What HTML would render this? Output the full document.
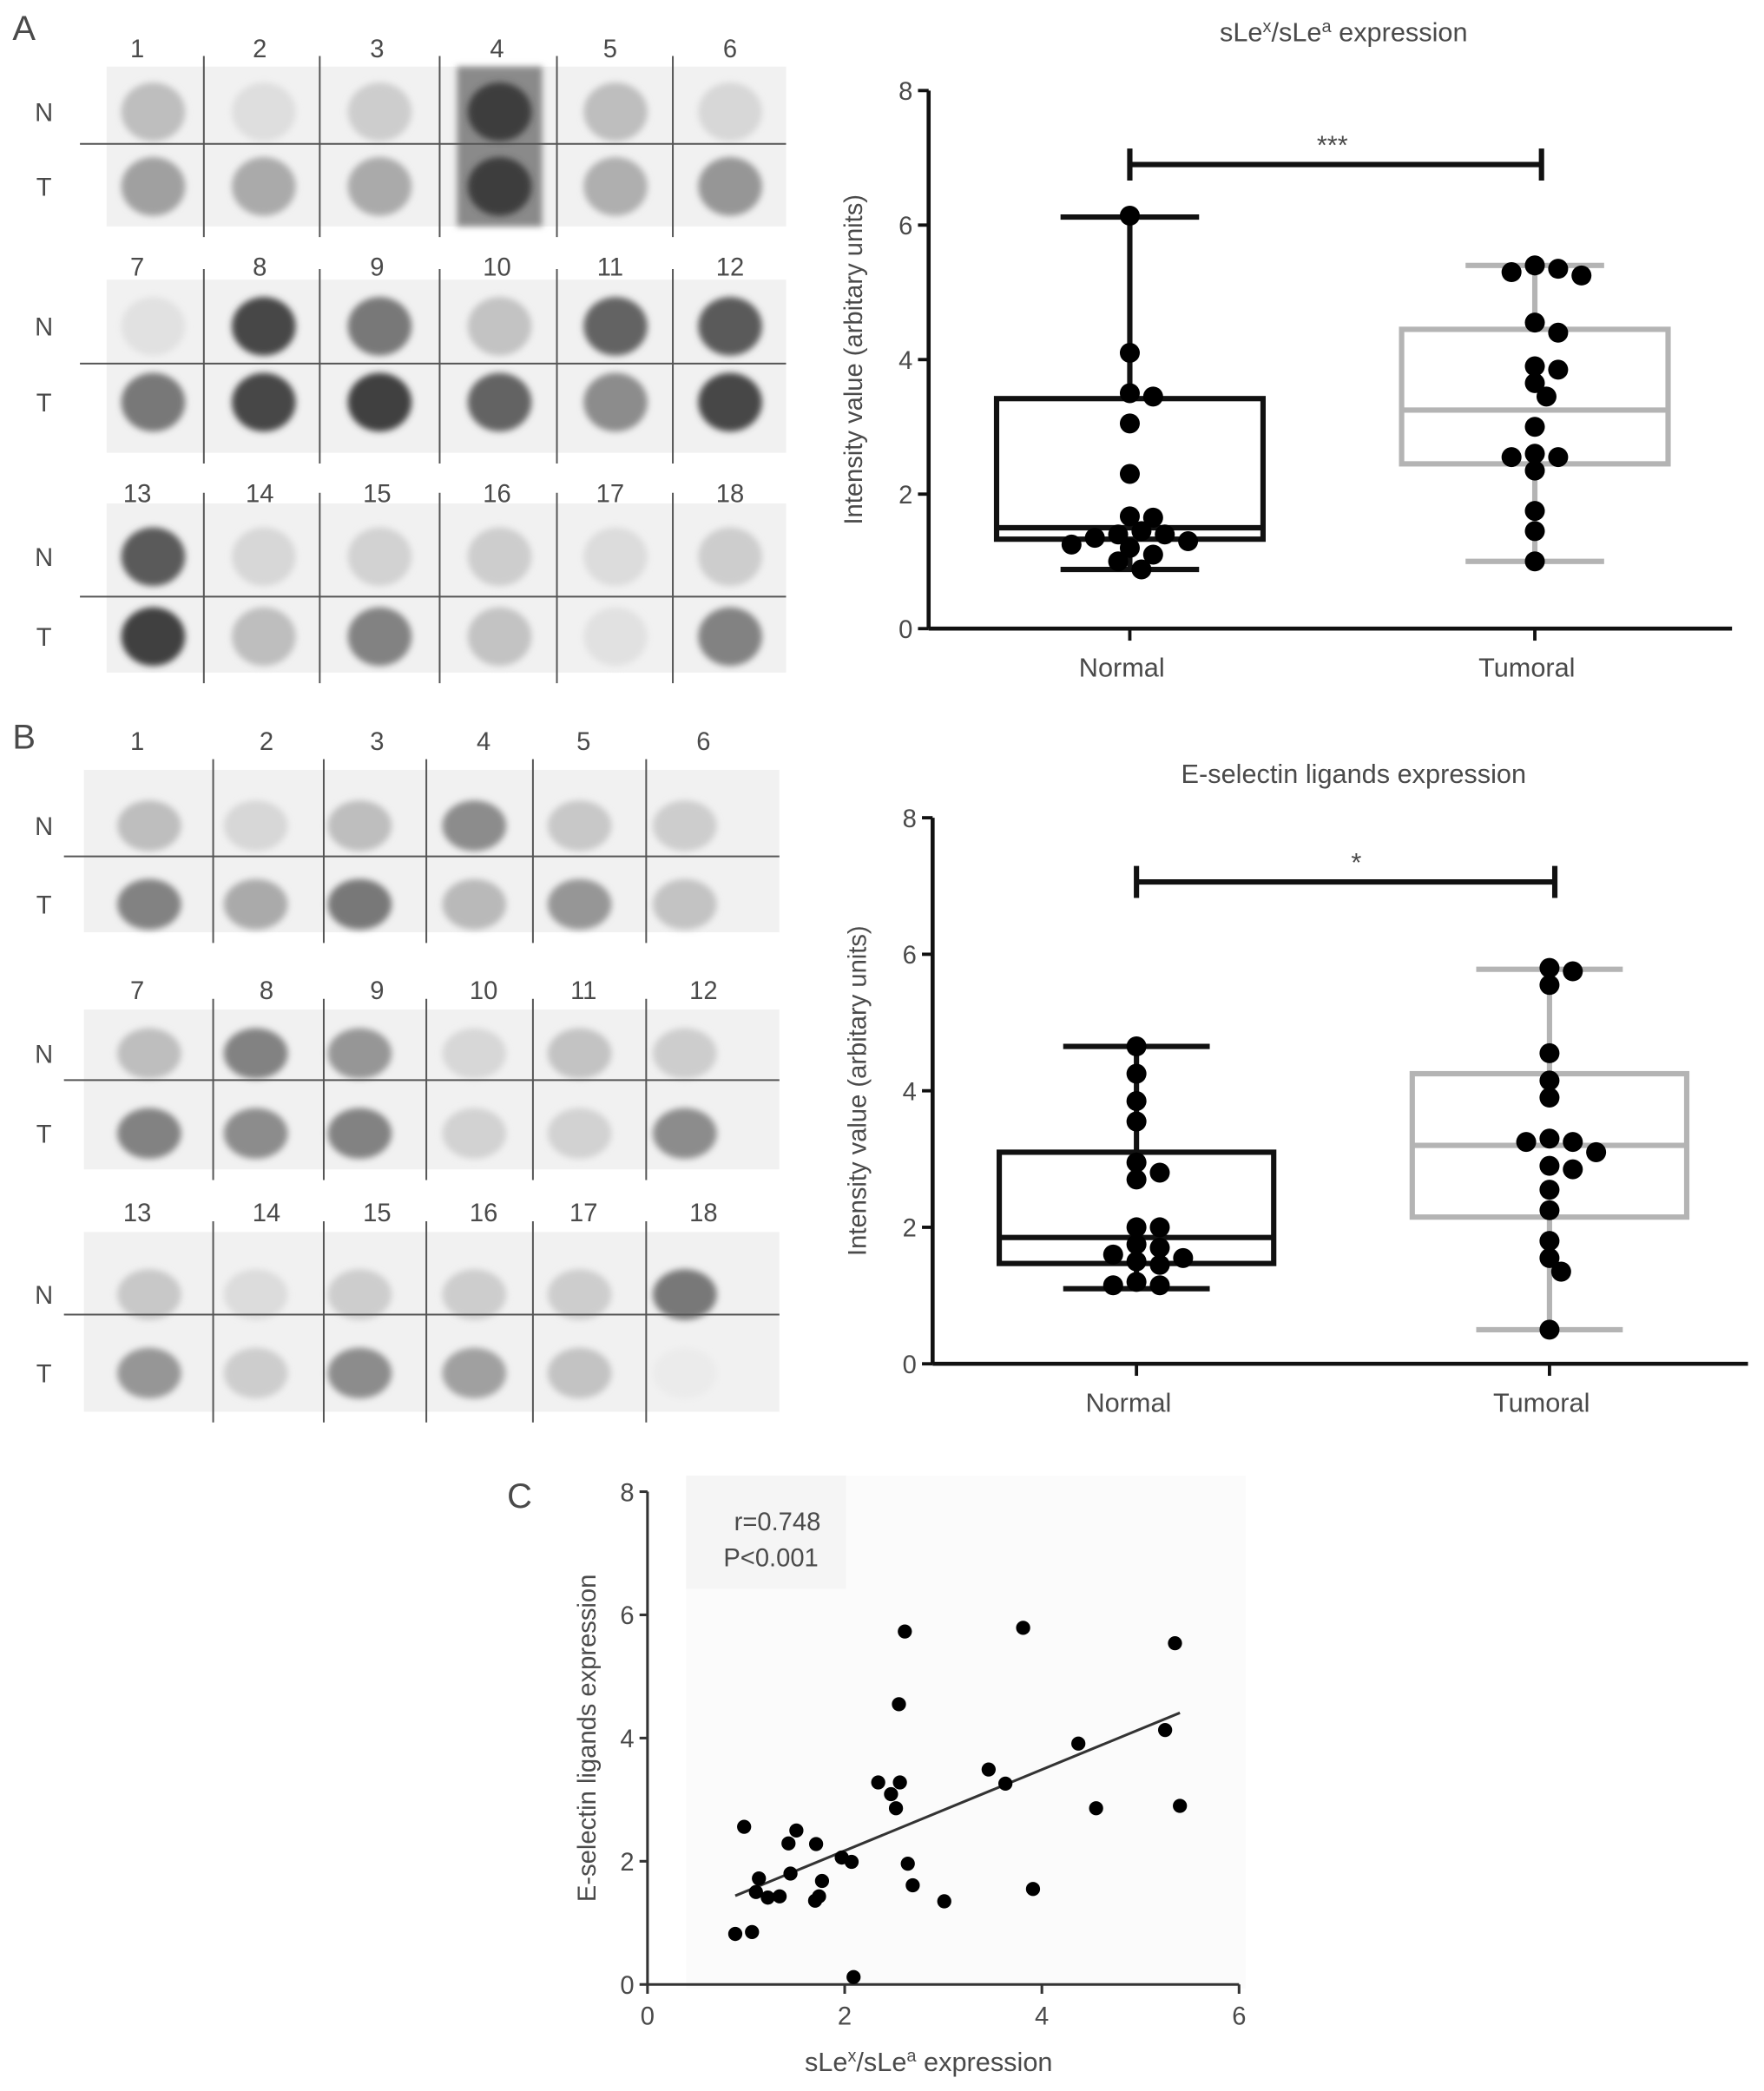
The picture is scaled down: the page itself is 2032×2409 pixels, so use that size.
<!DOCTYPE html>
<html><head><meta charset="utf-8">
<style>
html,body{margin:0;padding:0;background:#fff;}
svg{display:block;}
text{font-family:"Liberation Sans",sans-serif;fill:#4a4a4a;}
</style></head>
<body>
<svg id="fig" width="2032" height="2409" viewBox="0 0 1324 1570" preserveAspectRatio="none" xmlns="http://www.w3.org/2000/svg">
<defs><filter id="bl" x="-50%" y="-50%" width="200%" height="200%"><feGaussianBlur stdDeviation="2.5"/></filter></defs>
</svg>
<script>
// ---------- data ----------
const groupLabels = ["Normal","Tumoral"];
const yTicks = [0,2,4,6,8];
const xTicksC = [0,2,4,6];
const aNormal = [6.14,4.1,3.5,3.45,3.05,2.3,1.67,1.65,1.45,1.4,1.4,1.35,1.3,1.25,1.2,1.1,1.0,0.88];
const aTumoral = [5.4,5.35,5.3,5.25,4.55,4.4,3.9,3.85,3.65,3.45,3.0,2.6,2.55,2.55,2.35,1.75,1.45,1.0];
const aNormalBox = [0.88,1.33,1.5,3.42,6.12];
const aTumoralBox = [1.0,2.45,3.25,4.45,5.4];
const bNormal = [4.65,4.25,3.85,3.55,2.95,2.8,2.7,2.0,2.0,1.75,1.7,1.6,1.55,1.5,1.45,1.2,1.15,1.15];
const bTumoral = [5.8,5.75,5.55,4.55,4.15,3.9,3.3,3.25,3.25,3.1,2.9,2.85,2.55,2.25,1.8,1.55,1.35,0.5];
const bNormalBox = [1.1,1.47,1.85,3.1,4.65];
const bTumoralBox = [0.5,2.15,3.2,4.25,5.78];
const sigA = 6.9, sigB = 7.06;
const scX = [0.89,1.06,0.98,1.13,1.10,1.22,1.34,1.45,1.43,1.51,1.71,1.70,1.74,1.77,1.97,2.07,2.09,2.34,2.47,2.56,2.52,2.55,2.61,2.64,2.69,3.01,3.46,3.63,3.81,3.91,4.37,4.55,5.25,5.35,5.40];
const scY = [0.82,0.85,2.56,1.72,1.50,1.41,1.43,1.80,2.29,2.50,2.28,1.36,1.43,1.68,2.06,1.99,0.12,3.28,3.09,3.28,2.86,4.55,5.73,1.96,1.61,1.35,3.49,3.26,5.79,1.55,3.91,2.86,4.13,5.54,2.90];
const fitX = [0.89,5.40];
const fitY = [1.44,4.41];
const blotA_N = [[190,222,205,60,190,215],[225,70,120,195,100,90],[90,215,210,205,220,205]];
const blotA_T = [[160,170,170,60,175,150],[120,70,65,100,140,70],[65,190,130,195,225,130]];
const blotB_N = [[190,215,190,140,200,205],[190,130,150,215,195,205],[200,220,205,205,205,120]];
const blotB_T = [[130,170,120,185,150,195],[130,140,130,210,210,140],[150,205,140,160,195,235]];

// ---------- helpers ----------
const svg = document.getElementById('fig');
const NS = 'http://www.w3.org/2000/svg';
function mk(tag, attrs, parent){
  const e = document.createElementNS(NS, tag);
  for (const k in attrs) e.setAttribute(k, attrs[k]);
  (parent||svg).appendChild(e);
  return e;
}
function txt(x,y,s,size,anchor,parent){
  const t = mk('text',{x:x,y:y,'font-size':size,'text-anchor':anchor||'middle'},parent);
  t.textContent = s; return t;
}
function gray(v){return 'rgb('+v+','+v+','+v+')';}

// ---------- blots ----------
function blot(cfg, nData, tData){
  const g = mk('g',{});
  
  
  cfg.blocks.forEach((b,bi)=>{
    mk('rect',{x:cfg.x0,y:b.top,width:cfg.x1-cfg.x0,height:b.bottom-b.top,fill:'#f1f1f1'},g);
    if (cfg.darkCol!==undefined && bi===0){
      const c = cfg.darkCol;
      mk('rect',{x:cfg.cx[c]-32,y:b.top,width:64,height:b.bottom-b.top,fill:'#8a8a8a',filter:'url(#bl)'},g);
    }
    for (let i=0;i<6;i++){
      const lab = txt(cfg.nx[i], b.num, String(bi*6+i+1), 19, 'middle', g);
      
      
      const e1 = mk('ellipse',{cx:cfg.cx[i],cy:b.nY,rx:cfg.rx,ry:cfg.ry,fill:gray(nData[bi][i]),filter:'url(#bl)'},g);
      
      
      const e2 = mk('ellipse',{cx:cfg.cx[i],cy:b.tY,rx:cfg.rx,ry:cfg.ry,fill:gray(tData[bi][i]),filter:'url(#bl)'},g);
      
      
    }
    cfg.vl.forEach(x=>mk('line',{x1:x,x2:x,y1:b.top-8,y2:b.bottom+8,stroke:'#555','stroke-width':1.3},g));
    mk('line',{x1:cfg.hx0,x2:cfg.x1,y1:b.h,y2:b.h,stroke:'#555','stroke-width':1.3},g);
    txt(33,b.nY+7,'N',19,'middle',g);
    txt(33,b.tY+7,'T',19,'middle',g);
  });
}
blot({name:'dot-blot-a',x0:80,x1:590,hx0:60,cx:[115,198,285,375,462,548],nx:[103,195,283,373,458,548],vl:[153,240,330,418,505],rx:24,ry:22,darkCol:3,
  blocks:[{num:43,top:50,bottom:170,h:108,nY:84,tY:140},{num:207,top:210,bottom:340,h:273,nY:245,tY:302},{num:377,top:378,bottom:505,h:448,nY:418,tY:478}]},blotA_N,blotA_T);
blot({name:'dot-blot-b',x0:63,x1:585,hx0:48,cx:[112,192,270,356,435,514],nx:[103,200,283,363,438,528],vl:[160,243,320,400,485],rx:24,ry:19,
  blocks:[{num:563,top:578,bottom:700,h:643,nY:620,tY:679},{num:750,top:758,bottom:878,h:811,nY:791,tY:851},{num:917,top:925,bottom:1060,h:987,nY:972,tY:1031}]},blotB_N,blotB_T);

txt(18,30,'A',26,'middle');
txt(18,562,'B',26,'middle');
txt(390,1132,'C',26,'middle');

// ---------- box plots ----------
function beeswarm(vals, ys, cx, r){
  const placed=[]; const out=[];
  vals.forEach(v=>{
    const y=ys(v); let k=0, x=cx;
    while(true){
      const off = (k===0?0:Math.ceil(k/2)*(k%2?1:-1))*r*1.25;
      x=cx+off;
      if (placed.every(p=>Math.hypot(p[0]-x,p[1]-y)>=2*r*0.85)) break;
      k++;
    }
    placed.push([x,y]); out.push([x,y]);
  });
  return out;
}
function boxChart(c){
  const g = mk('g',{});
  
  
  const ys = v => c.y0 - (c.y0-c.y8)*v/8;
  const t = txt((c.ax+c.axEnd)/2+10, c.titleY, '', 20, 'middle', g);
  
  
  c.title(t);
  mk('line',{x1:c.ax,x2:c.ax,y1:c.y8,y2:c.y0,stroke:'#111','stroke-width':3},g);
  mk('line',{x1:c.ax,x2:c.axEnd,y1:c.y0,y2:c.y0,stroke:'#111','stroke-width':3},g);
  yTicks.forEach(v=>{
    mk('line',{x1:c.ax-8,x2:c.ax,y1:ys(v),y2:ys(v),stroke:'#111','stroke-width':2.5},g);
    const tl = txt(c.ax-12,ys(v)+7,String(v),19,'end',g);
    
    
  });
  const yt = txt(0,0,'Intensity value (arbitary units)',19,'middle',g);
  yt.setAttribute('transform','translate('+(c.ax-50)+','+((c.y0+c.y8)/2)+') rotate(-90)');
  
  
  const sets=[[c.nBox,c.nVals,'#111'],[c.tBox,c.tVals,'#b4b4b4']];
  sets.forEach((s,i)=>{
    const cx=c.gx[i], b=s[0], col=s[2];
    mk('line',{x1:cx,x2:cx,y1:c.y0,y2:c.y0+9,stroke:'#111','stroke-width':2.5},g);
    const xl = txt(cx-6,c.y0+36,groupLabels[i],20,'middle',g);
    
    
    const bx = mk('g',{},g);
    
    
    mk('line',{x1:cx,x2:cx,y1:ys(b[0]),y2:ys(b[1]),stroke:col,'stroke-width':4},bx);
    mk('line',{x1:cx,x2:cx,y1:ys(b[3]),y2:ys(b[4]),stroke:col,'stroke-width':4},bx);
    mk('line',{x1:cx-c.cap,x2:cx+c.cap,y1:ys(b[0]),y2:ys(b[0]),stroke:col,'stroke-width':4},bx);
    mk('line',{x1:cx-c.cap,x2:cx+c.cap,y1:ys(b[4]),y2:ys(b[4]),stroke:col,'stroke-width':4},bx);
    mk('rect',{x:cx-c.bw,y:ys(b[3]),width:2*c.bw,height:ys(b[1])-ys(b[3]),fill:'none',stroke:col,'stroke-width':4},bx);
    mk('line',{x1:cx-c.bw,x2:cx+c.bw,y1:ys(b[2]),y2:ys(b[2]),stroke:col,'stroke-width':4},bx);
    beeswarm(s[1],ys,cx,7).forEach(p=>{
      const d = mk('circle',{cx:p[0],cy:p[1],r:7.5,fill:'#000'},g);
      
      
    });
  });
  const sy = ys(c.sig);
  const sg = mk('g',{},g);
  
  
  mk('line',{x1:c.gx[0],x2:c.gx[1]+c.sigOff,y1:sy,y2:sy,stroke:'#111','stroke-width':4},sg);
  mk('line',{x1:c.gx[0],x2:c.gx[0],y1:sy-12,y2:sy+12,stroke:'#111','stroke-width':4},sg);
  mk('line',{x1:c.gx[1]+c.sigOff,x2:c.gx[1]+c.sigOff,y1:sy-12,y2:sy+12,stroke:'#111','stroke-width':4},sg);
  txt((c.gx[0]+c.gx[1])/2+c.starOff,sy-8,c.stars,20,'middle',sg);
}
boxChart({name:'boxplot-slex',ax:697,axEnd:1300,y0:472,y8:68,gx:[848,1152],bw:100,cap:52,titleY:31,
  nBox:aNormalBox,tBox:aTumoralBox,nVals:aNormal,tVals:aTumoral,sig:sigA,sigOff:5,stars:'***',starOff:0,
  title:t=>{t.innerHTML='sLe<tspan dy="-7" font-size="13">x</tspan><tspan dy="7">/sLe</tspan><tspan dy="-7" font-size="13">a</tspan><tspan dy="7"> expression</tspan>';}});
boxChart({name:'boxplot-eselectin',ax:700,axEnd:1312,y0:1024,y8:614,gx:[853,1163],bw:103,cap:55,titleY:588,
  nBox:bNormalBox,tBox:bTumoralBox,nVals:bNormal,tVals:bTumoral,sig:sigB,sigOff:4,stars:'*',starOff:10,
  title:t=>{t.textContent='E-selectin ligands expression';}});

// ---------- scatter ----------
(function(){
  const g = mk('g',{});
  
  
  const x0=486,x6=930,y0=1490,y8=1120;
  const xs=v=>x0+(x6-x0)*v/6, ys=v=>y0-(y0-y8)*v/8;
  mk('rect',{x:515,y:1108,width:420,height:385,fill:'#fbfbfb'},g);
  mk('rect',{x:515,y:1108,width:120,height:85,fill:'#f5f5f5'},g);
  mk('line',{x1:x0,x2:x0,y1:y8,y2:y0,stroke:'#333','stroke-width':2},g);
  mk('line',{x1:x0,x2:x6,y1:y0,y2:y0,stroke:'#333','stroke-width':2},g);
  yTicks.forEach(v=>{
    mk('line',{x1:x0-6,x2:x0,y1:ys(v),y2:ys(v),stroke:'#333','stroke-width':2},g);
    const t=txt(x0-10,ys(v)+7,String(v),19,'end',g);
    
    
  });
  xTicksC.forEach(v=>{
    mk('line',{x1:xs(v),x2:xs(v),y1:y0,y2:y0+7,stroke:'#333','stroke-width':2},g);
    const t=txt(xs(v),y0+30,String(v),19,'middle',g);
    
    
  });
  const yt = txt(0,0,'E-selectin ligands expression',19,'middle',g);
  yt.setAttribute('transform','translate(447,'+((y0+y8)/2)+') rotate(-90)');
  
  
  const xt = txt(697,1555,'',20,'middle',g);
  xt.innerHTML='sLe<tspan dy="-7" font-size="13">x</tspan><tspan dy="7">/sLe</tspan><tspan dy="-7" font-size="13">a</tspan><tspan dy="7"> expression</tspan>';
  
  
  const r1=txt(551,1149,'r=0.748',19,'start',g);
  
  
  const r2=txt(543,1176,'P<0.001',19,'start',g);
  
  
  const fl = mk('line',{x1:xs(fitX[0]),y1:ys(fitY[0]),x2:xs(fitX[1]),y2:ys(fitY[1]),stroke:'#333','stroke-width':2},g);
  
  
  scX.forEach((v,i)=>{
    const d=mk('circle',{cx:xs(v),cy:ys(scY[i]),r:5.3,fill:'#000'},g);
    
    
  });
})();
</script>
</body></html>
